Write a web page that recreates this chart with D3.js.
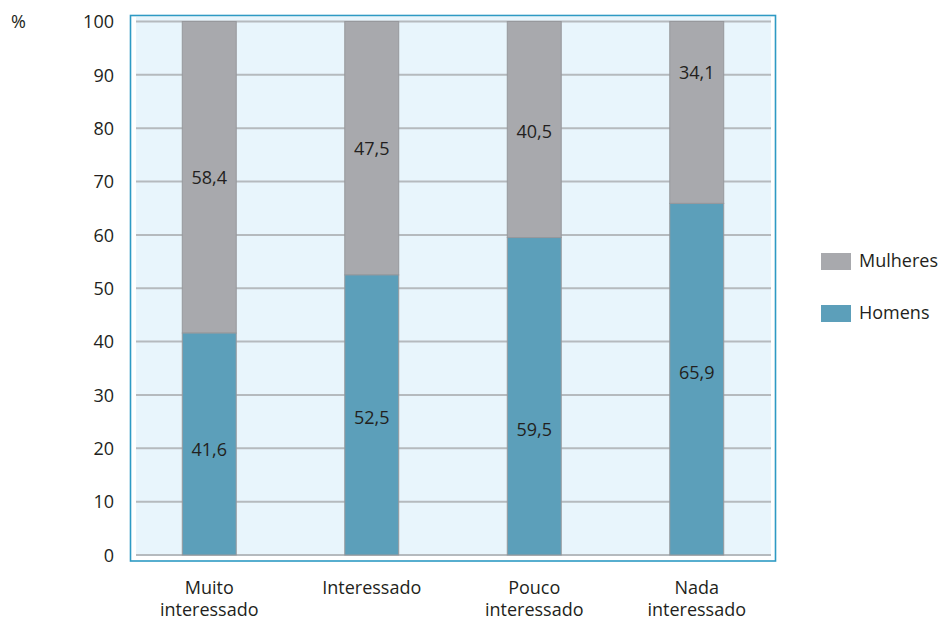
<!DOCTYPE html>
<html>
<head>
<meta charset="utf-8">
<script src="https://cdn.jsdelivr.net/npm/d3@7"></script>
<style>
  html, body { margin: 0; padding: 0; background: #ffffff; }
  svg text { font-family: "Open Sans", "Noto Sans", sans-serif; fill: #231f20; }
</style>
</head>
<body>
<svg id="chart" width="944" height="620"></svg>
<script>
// Categories (two-line labels) and the share of men and women in each
const categories = ["Muito interessado", "Interessado", "Pouco interessado", "Nada interessado"];
const categoryLines = [["Muito", "interessado"], ["Interessado"], ["Pouco", "interessado"], ["Nada", "interessado"]];
const homens = [41.6, 52.5, 59.5, 65.9];
const mulheres = [58.4, 47.5, 40.5, 34.1];
const yTicks = [0, 10, 20, 30, 40, 50, 60, 70, 80, 90, 100];
const seriesNames = ["Mulheres", "Homens"];

// Where each value label sits along the bar, in percent units
const homensLabelAt = [19.7, 25.8, 23.5, 34.2];
const mulheresLabelAt = [70.7, 76.2, 79.4, 90.4];

const colors = { Homens: "#5c9fba", Mulheres: "#a8a9ad" };
const fmt = v => d3.format(".1f")(v).replace(".", ",");

const svg = d3.select("#chart");

const x = d3.scaleBand().domain(categories).range([128, 778]).paddingInner(0.668).paddingOuter(0.334);
const y = d3.scaleLinear().domain([0, 100]).range([555, 21.5]);

// Outer frame and light panel
svg.append("rect")
  .attr("x", 130.5).attr("y", 15.5).attr("width", 645).attr("height", 545.5)
  .attr("fill", "#ffffff").attr("stroke", "#2e9ac4").attr("stroke-width", 1.6);
svg.append("rect")
  .attr("x", 136).attr("y", 17).attr("width", 635).attr("height", 539)
  .attr("fill", "#e8f5fc");

// Horizontal grid lines
svg.append("g")
  .selectAll("line")
  .data(yTicks)
  .join("line")
  .attr("x1", 136).attr("x2", 771)
  .attr("y1", d => y(d)).attr("y2", d => y(d))
  .attr("stroke", "#b5babe").attr("stroke-width", 2);

// Y axis labels
const yAxis = d3.axisLeft(y).tickValues(yTicks).tickSize(0).tickPadding(0);
const yg = svg.append("g").attr("transform", "translate(114,0)").call(yAxis);
yg.select(".domain").remove();
yg.selectAll("text")
  .attr("font-size", 18)
  .attr("font-family", "'Open Sans', sans-serif")
  .attr("fill", "#231f20")
  .attr("dy", "0.35em");

svg.append("text").attr("x", 11).attr("y", 28).attr("font-size", 18).text("%");

// Stacked bars
const bw = x.bandwidth();
const g = svg.append("g");
categories.forEach((c, i) => {
  g.append("rect")
    .attr("x", x(c)).attr("width", bw)
    .attr("y", y(100)).attr("height", y(homens[i]) - y(100))
    .attr("fill", colors.Mulheres).attr("stroke", "#97989c").attr("stroke-width", 1);
  g.append("rect")
    .attr("x", x(c)).attr("width", bw)
    .attr("y", y(homens[i])).attr("height", y(0) - y(homens[i]))
    .attr("fill", colors.Homens).attr("stroke", "#97989c").attr("stroke-width", 1);
});

// Value labels
const labels = svg.append("g").attr("font-size", 18).attr("text-anchor", "middle");
categories.forEach((c, i) => {
  const cx = x(c) + bw / 2;
  labels.append("text").attr("x", cx).attr("y", y(homensLabelAt[i])).attr("dy", "0.35em").text(fmt(homens[i]));
  labels.append("text").attr("x", cx).attr("y", y(mulheresLabelAt[i])).attr("dy", "0.35em").text(fmt(mulheres[i]));
});

// Category labels
const xl = svg.append("g").attr("font-size", 18).attr("text-anchor", "middle");
categories.forEach((c, i) => {
  const t = xl.append("text").attr("x", x(c) + bw / 2).attr("y", 594);
  categoryLines[i].forEach((line, j) => {
    t.append("tspan").attr("x", x(c) + bw / 2).attr("dy", j === 0 ? 0 : 22).text(line);
  });
});

// Legend
const legend = svg.append("g");
seriesNames.forEach((name, i) => {
  const ly = 261 + i * 52;
  legend.append("rect").attr("x", 821).attr("y", ly - 8).attr("width", 30).attr("height", 17)
    .attr("fill", colors[name]);
  legend.append("text").attr("x", 859).attr("y", ly).attr("dy", "0.35em").attr("font-size", 18).text(name);
});
</script>
</body>
</html>
